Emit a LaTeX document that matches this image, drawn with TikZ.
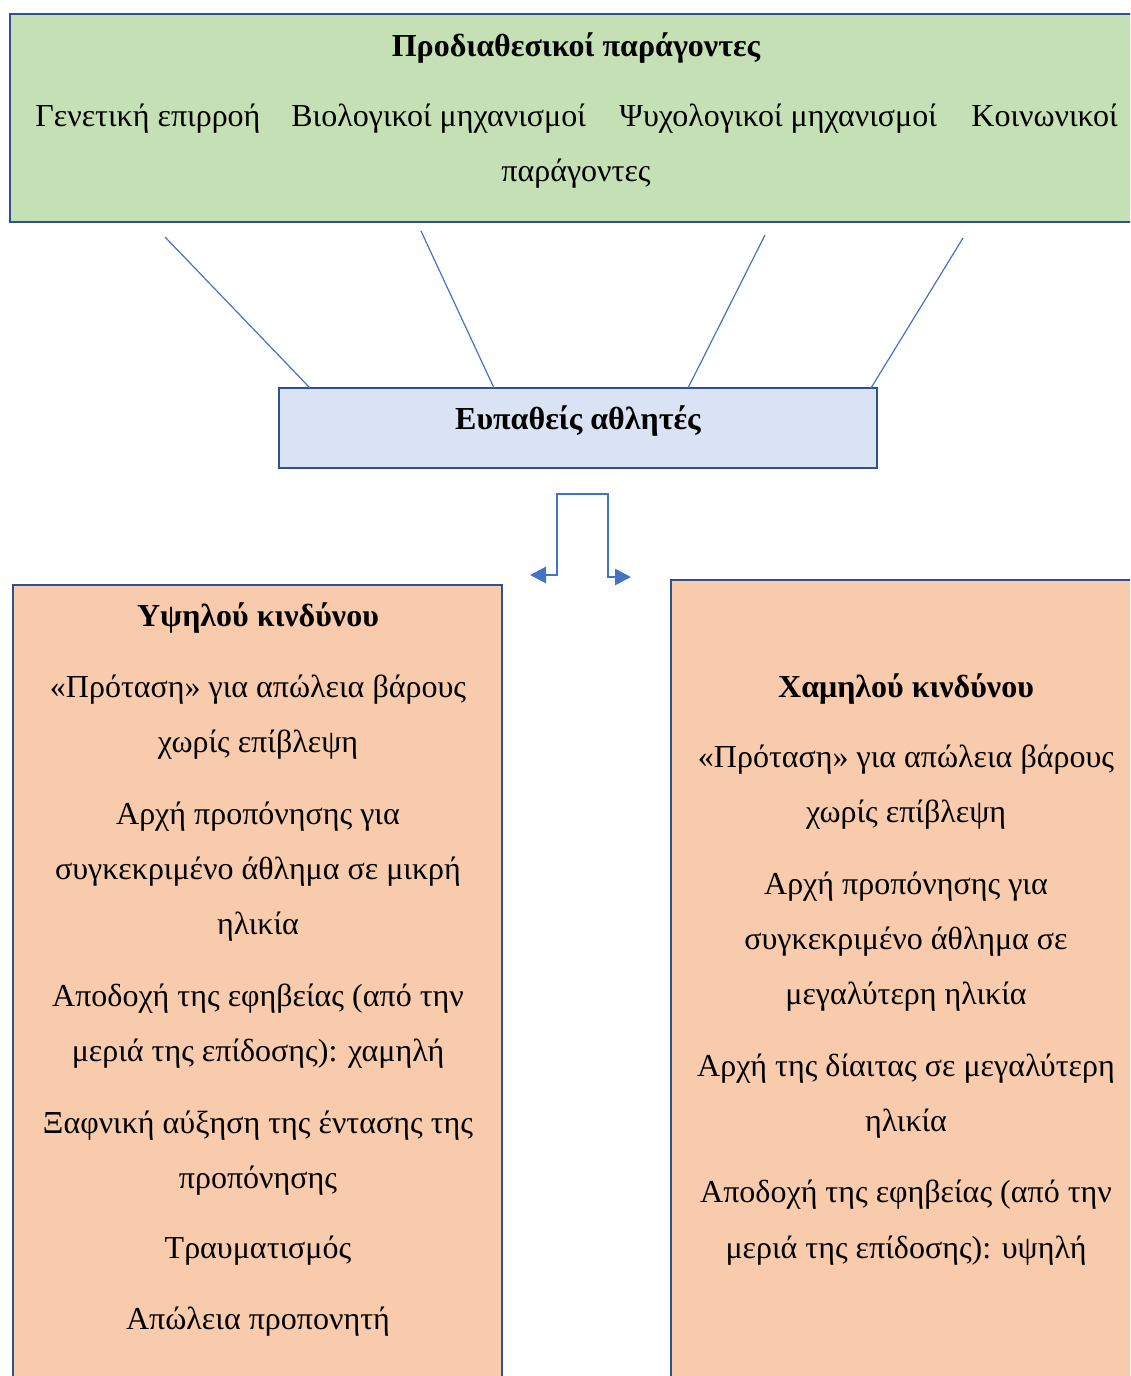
\documentclass[tikz,border=0pt]{standalone}
\usepackage{fontspec}
\setmainfont{Liberation Serif}
\usetikzlibrary{arrows.meta}
\definecolor{boxline}{HTML}{2F528F}
\definecolor{greenfill}{HTML}{C5E0B4}
\definecolor{bluefill}{HTML}{DAE3F3}
\definecolor{orangefill}{HTML}{F8CBAD}
\definecolor{linkblue}{HTML}{4472C4}
\tikzset{
  panel/.style={draw=boxline, line width=1.3pt},
  txt/.style={anchor=base, inner sep=0pt, font=\fontsize{16}{19}\selectfont},
  txtw/.style={anchor=base west, inner sep=0pt, font=\fontsize{16}{19}\selectfont},
  ttl/.style={anchor=base, inner sep=0pt, font=\fontsize{16}{19}\selectfont\bfseries},
  link/.style={draw=linkblue, line width=0.6pt},
  splitarrow/.style={draw=linkblue, line width=1.4pt, -{Triangle[length=8pt,width=8pt]}}
}
\begin{document}
\begin{tikzpicture}[x=0.5pt,y=-0.5pt]
\useasboundingbox (0,0) rectangle (1130,1376);
\clip (0,0) rectangle (1130,1376);
% panels
\draw[panel, fill=greenfill] (10,14) rectangle (1145,222);
\draw[panel, fill=bluefill] (279,388) rectangle (877,468);
\draw[panel, fill=orangefill] (13,585) rectangle (502,1390);
\draw[panel, fill=orangefill] (671,580) rectangle (1145,1390);
% top box texts
\node[ttl] (t0) at (576,56) {Προδιαθεσικοί παράγοντες};
\node[txtw] (t1) at (35,126) {Γενετική επιρροή};
\node[txtw] (t2) at (291,126) {Βιολογικοί μηχανισμοί};
\node[txtw] (t3) at (619,126) {Ψυχολογικοί μηχανισμοί};
\node[txtw] (t4) at (971,126) {Κοινωνικοί};
\node[txt] (t5) at (576,181) {παράγοντες};
% blue box text
\node[ttl] (b0) at (578,429) {Ευπαθείς αθλητές};
% connectors from factors to vulnerable athletes
\coordinate (s1) at (165,237); \coordinate (e1) at (310,388);
\coordinate (s2) at (421,231); \coordinate (e2) at (494,388);
\coordinate (s3) at (765,235); \coordinate (e3) at (688,388);
\coordinate (s4) at (963,238); \coordinate (e4) at (871,388);
\draw[link] (s1) -- (e1);
\draw[link] (s2) -- (e2);
\draw[link] (s3) -- (e3);
\draw[link] (s4) -- (e4);
% split arrow
\coordinate (ctop) at (582,494);
\coordinate (lft) at (530,575);
\coordinate (rgt) at (631,577);
\draw[splitarrow] (ctop) -- (557,494) -- (557,575) -- (lft);
\draw[splitarrow] (ctop) -- (608,494) -- (608,577) -- (rgt);
% left panel
\node[ttl] (h0) at (258,626) {Υψηλού κινδύνου};
\node[txt] (h1) at (258,697) {«Πρόταση» για απώλεια βάρους};
\node[txt] (h2) at (258,752) {χωρίς επίβλεψη};
\node[txt] (h3) at (258,824) {Αρχή προπόνησης για};
\node[txt] (h4) at (258,879) {συγκεκριμένο άθλημα σε μικρή};
\node[txt] (h5) at (258,934) {ηλικία};
\node[txt] (h6) at (258,1006) {Αποδοχή της εφηβείας (από την};
\node[txt] (h7) at (258,1061) {μεριά της επίδοσης): χαμηλή};
\node[txt] (h8) at (258,1133) {Ξαφνική αύξηση της έντασης της};
\node[txt] (h9) at (258,1188) {προπόνησης};
\node[txt] (h10) at (258,1258) {Τραυματισμός};
\node[txt] (h11) at (258,1329) {Απώλεια προπονητή};
% right panel
\node[ttl] (l0) at (906,697) {Χαμηλού κινδύνου};
\node[txt] (l1) at (906,767) {«Πρόταση» για απώλεια βάρους};
\node[txt] (l2) at (906,822) {χωρίς επίβλεψη};
\node[txt] (l3) at (906,894) {Αρχή προπόνησης για};
\node[txt] (l4) at (906,949) {συγκεκριμένο άθλημα σε};
\node[txt] (l5) at (906,1004) {μεγαλύτερη ηλικία};
\node[txt] (l6) at (906,1076) {Αρχή της δίαιτας σε μεγαλύτερη};
\node[txt] (l7) at (906,1131) {ηλικία};
\node[txt] (l8) at (906,1202) {Αποδοχή της εφηβείας (από την};
\node[txt] (l9) at (906,1258) {μεριά της επίδοσης): υψηλή};
\end{tikzpicture}
\end{document}
